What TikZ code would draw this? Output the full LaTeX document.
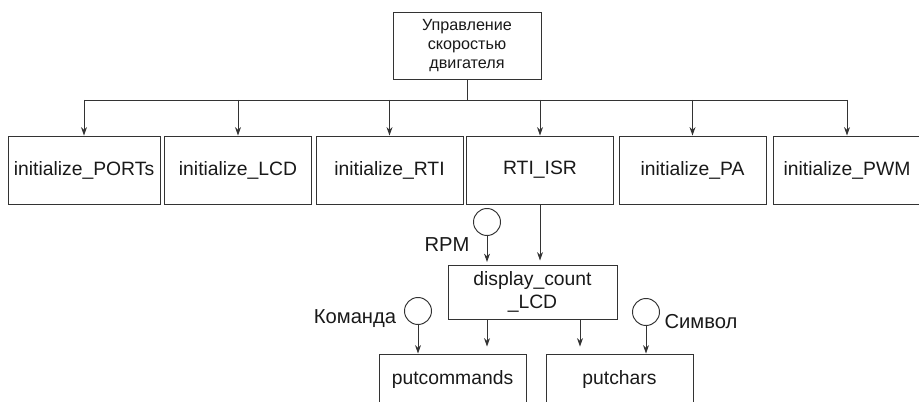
\documentclass[tikz,border=0pt]{standalone}
\usepackage{fontspec}
\setmainfont{Liberation Sans}
\usetikzlibrary{arrows.meta}

\begin{document}
\begin{tikzpicture}[x=0.02cm,y=-0.02cm,line width=0.55pt,draw=black!80,
  every node/.style={font=\fontsize{11}{13}\selectfont,text=black!90},
  box/.style={draw,minimum width=2.94cm,minimum height=1.36cm,inner sep=1pt},
  flag/.style={draw,circle,minimum size=0.54cm,inner sep=0pt},
  lbl/.style={font=\fontsize{11.5}{13}\selectfont},
  arr/.style={-{Stealth[length=4.8pt,width=3.4pt]}}]
\clip (0,0) rectangle (919,402);
\node[draw,minimum width=2.96cm,minimum height=1.34cm,align=center,font=\fontsize{9.2}{11}\selectfont] (ctrl) at (467,45.5) {Управление\\скоростью\\двигателя};
\coordinate (bus) at (467,100);
\node[box,minimum width=3.04cm] (ports) at (84,170) {initialize\_PORTs};
\node[box] (lcd) at (238,170) {initialize\_LCD};
\node[box] (rti) at (389.5,170) {initialize\_RTI};
\node[box] (isr) at (540,170) {RTI\_ISR};
\node[box] (pa) at (692.5,170) {initialize\_PA};
\node[box] (pwm) at (847,170) {initialize\_PWM};
\draw (ctrl) -- (bus);
\draw (ports.north |- bus) -- (pwm.north |- bus);
\foreach \n in {ports,lcd,rti,isr,pa,pwm}
  \draw[arr] (\n.north |- bus) -- (\n.north);
\node[box,minimum width=3.38cm,minimum height=1.08cm,align=center] (disp) at (532.5,292) {display\_count\\\_LCD};
\node[flag] (rpm) at (487,222) {};
\node[lbl] (rpmlbl) at (447,245) {RPM};
\draw[arr,shorten >=0.8mm] (isr.south) -- (isr.south |- disp.north);
\draw[arr,shorten >=0.5mm] (rpm) -- (rpm |- disp.north);
\node[box,minimum height=1cm] (cmds) at (452.5,379) {putcommands};
\node[box,minimum height=1cm] (chars) at (619.5,379) {putchars};
\node[flag] (cmd) at (418,311) {};
\node[lbl] (cmdlbl) at (355,319) {Команда};
\node[flag] (sym) at (646,312) {};
\node[lbl] (symlbl) at (701,322) {Символ};
\draw[arr] (cmd) -- (cmd |- cmds.north);
\draw[arr] (sym) -- (sym |- chars.north);
\draw[arr,shorten >=1.4mm] ([xshift=-0.91cm]disp.south) -- ([xshift=-0.91cm]disp.south |- cmds.north);
\draw[arr,shorten >=1.4mm] ([xshift=0.95cm]disp.south) -- ([xshift=0.95cm]disp.south |- chars.north);
\end{tikzpicture}
\end{document}
